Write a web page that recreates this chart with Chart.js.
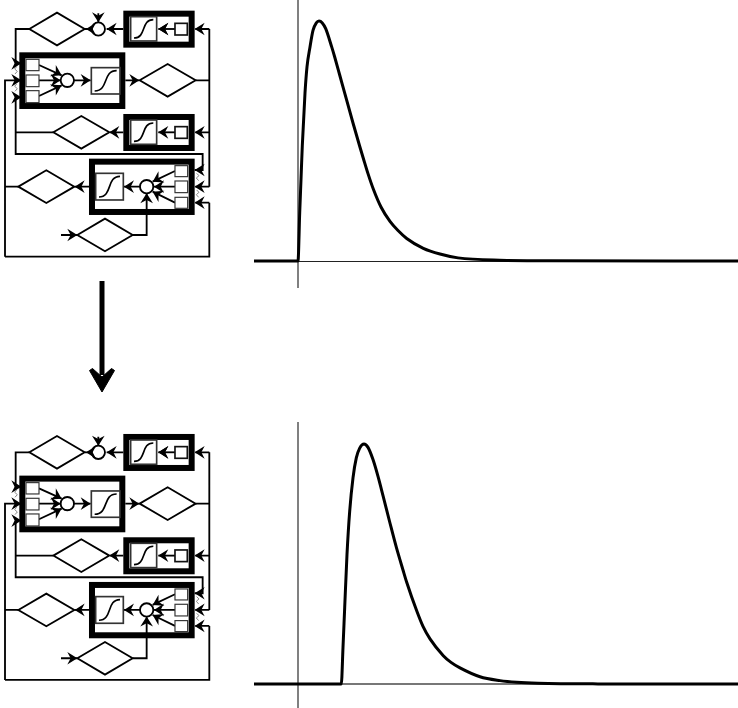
<!DOCTYPE html>
<html>
<head>
<meta charset="utf-8">
<script src="https://cdn.jsdelivr.net/npm/chart.js@4"></script>
<style>
  html, body { margin: 0; padding: 0; background: #fff; }
  body { width: 738px; height: 708px; position: relative; overflow: hidden; }
  canvas, svg { position: absolute; display: block; }
  #topChart { left: 254px; top: 0; }
  #bottomChart { left: 254px; top: 422px; }
  #diagrams { left: 0; top: 0; }
</style>
</head>
<body>
<svg id="diagrams" width="738" height="708"></svg>
<canvas id="topChart" width="484" height="288"></canvas>
<canvas id="bottomChart" width="484" height="286"></canvas>
<script>
// Curves (time, normalised activation)
const topTimes = [-4.4, 0, 0.17, 0.3, 0.43, 0.7, 0.9, 1.2, 1.5, 1.83, 2.1, 2.43, 2.77, 3.37, 3.67, 4.17, 4.7, 5.5, 6.17, 6.53, 7, 7.53, 8.3, 9.2, 10, 10.87, 12.53, 14.2, 16, 20.17, 25, 44];
const topValues = [0, 0, 0.2, 0.34, 0.48, 0.7, 0.809, 0.892, 0.961, 0.992, 1, 0.992, 0.968, 0.892, 0.85, 0.775, 0.695, 0.575, 0.478, 0.428, 0.364, 0.3, 0.225, 0.165, 0.127, 0.094, 0.053, 0.029, 0.013, 0.003, 0.001, 0];
const bottomTimes = [-4.4, 4.33, 4.5, 4.67, 4.9, 5.17, 5.5, 5.83, 6.17, 6.6, 7, 7.5, 8, 8.5, 9.17, 9.83, 10.5, 10.87, 11.87, 12.5, 13.2, 14.53, 15.3, 16.2, 18.2, 20.2, 21.87, 24, 30, 44];
const bottomValues = [0, 0, 0.152, 0.319, 0.54, 0.72, 0.859, 0.942, 0.983, 1, 0.986, 0.935, 0.865, 0.785, 0.675, 0.57, 0.475, 0.424, 0.305, 0.24, 0.188, 0.118, 0.09, 0.067, 0.03, 0.014, 0.007, 0.003, 0.0005, 0];

function createChart(id, times, values, yMin, yMax, axisColor, axisWidth) {
  return new Chart(document.getElementById(id), {
    type: 'line',
    data: {
      datasets: [{
        data: times.map((t, i) => ({ x: t, y: values[i] })),
        borderColor: '#000',
        borderWidth: 3,
        pointRadius: 0,
        cubicInterpolationMode: 'monotone',
        fill: false,
      }]
    },
    options: {
      responsive: false,
      animation: false,
      layout: { padding: 0 },
      plugins: { legend: { display: false }, tooltip: { enabled: false } },
      scales: {
        x: {
          type: 'linear',
          min: -4.4,
          max: 44,
          position: { y: 0 },
          grid: { display: false, drawTicks: false },
          ticks: { display: false },
          border: { display: true, color: axisColor, width: axisWidth },
        },
        y: {
          type: 'linear',
          min: yMin,
          max: yMax,
          position: { x: 0 },
          grid: { display: false, drawTicks: false },
          ticks: { display: false },
          border: { display: true, color: '#808080', width: 2 },
        },
      },
    },
  });
}

createChart('topChart', topTimes, topValues, -0.1125, 1.0875, '#222', 1);
createChart('bottomChart', bottomTimes, bottomValues, -0.1, 1.0917, '#777', 2);

// Block diagram, in 3x units so it lines up with the zoomed crops
function arrowHead(x, y, angle) {
  return `<path transform="translate(${x} ${y}) rotate(${angle})" d="M0 0L-30-19L-20 0L-30 19Z" fill="#000" stroke="none"/>`;
}
function diamond(cx, cy, rx, ry) {
  return `<path d="M${cx - rx} ${cy}L${cx} ${cy - ry}L${cx + rx} ${cy}L${cx} ${cy + ry}Z" fill="#fff"/>`;
}
function sigmoidBox(x, y, w, h) {
  return `<rect x="${x}" y="${y}" width="${w}" height="${h}" fill="#fff" stroke="#333" stroke-width="5"/>` +
    `<path d="M${x + 10} ${y + h - 9}C${x + w * 0.62} ${y + h - 9} ${x + w * 0.38} ${y + 9} ${x + w - 10} ${y + 9}" stroke-width="5"/>`;
}
function smallBox(x, y, w, h) {
  return `<rect x="${x}" y="${y}" width="${w}" height="${h}" fill="#fff" stroke="#333" stroke-width="3.5"/>`;
}
function frame(x, y, w, h) {
  return `<rect x="${x + 9}" y="${y + 9}" width="${w - 18}" height="${h - 18}" fill="#fff" stroke="#000" stroke-width="18"/>`;
}
function outputBlock(dy) {
  return frame(370, 32 + dy, 214, 111) +
    sigmoidBox(392, 50 + dy, 78, 73) +
    `<path d="M525 ${87 + dy}H475"/>` + arrowHead(475, 87 + dy, 180) +
    `<rect x="525" y="${70 + dy}" width="37" height="35" fill="#fff" stroke="#111" stroke-width="5"/>`;
}

const wires = `
  <path d="M88 87H47V190H60M15 770V241H60M47 292V462H608V510H584M47 397H160M628 87V560M628 87H586M628 397H586M587 241H628M628 560H586M628 608V770H15M628 608H586M370 397H330M376 241H418M255 87H275M370 87H320M295 40V66M15 560H55"/>
  <path d="M287 560H224M183 705H232M398 705H440V582M420 560H372"/>
  <path d="M50 200L44 207L52 214L45 222M50 252L44 259L52 266L45 274M590 520L597 527L589 534L596 542M590 570L597 577L589 584L596 592" stroke="#888" stroke-width="3"/>
`;
const heads = [
  arrowHead(64, 190, 0), arrowHead(64, 241, 0), arrowHead(64, 292, 0),
  arrowHead(584, 87, 180), arrowHead(584, 397, 180), arrowHead(584, 510, 180), arrowHead(584, 560, 180), arrowHead(584, 608, 180),
  arrowHead(258, 87, 180), arrowHead(320, 87, 180), arrowHead(295, 67, 90),
  arrowHead(328, 397, 180), arrowHead(418, 241, 0), arrowHead(224, 560, 180), arrowHead(232, 705, 0), arrowHead(440, 580, -90),
  arrowHead(272, 241, 0), arrowHead(372, 560, 180),
  arrowHead(185, 226, 28), arrowHead(182, 241, 0), arrowHead(185, 256, -28),
  arrowHead(458, 545, 152), arrowHead(462, 560, 180), arrowHead(458, 575, 208),
  arrowHead(475, 87, 180),
].join('');

const diagram = `
  ${frame(58, 157, 318, 170)}
  ${frame(267, 476, 317, 169)}
  ${outputBlock(0)}
  ${outputBlock(310)}
  ${wires}
  ${diamond(171, 87, 83, 49)}${diamond(503, 241, 84, 49)}${diamond(244, 397, 84, 49)}${diamond(139, 560, 84, 49)}${diamond(315, 705, 83, 49)}
  <path d="M117 195L185 226M117 241H182M117 288L185 256M222 241H272"/>
  <path d="M525 513L458 545M525 560H462M525 608L458 575"/>
  ${sigmoidBox(274, 203, 86, 79)}${sigmoidBox(287, 520, 83, 80)}
  <circle cx="295" cy="87" r="20" fill="#fff"/><circle cx="202" cy="241" r="20" fill="#fff"/><circle cx="440" cy="560" r="20" fill="#fff"/>
  ${smallBox(78, 178, 39, 34)}${smallBox(78, 225, 39, 35)}${smallBox(78, 272, 39, 36)}
  ${smallBox(525, 497, 38, 33)}${smallBox(525, 543, 38, 35)}${smallBox(525, 592, 38, 33)}
  ${heads}
`;

document.getElementById('diagrams').innerHTML = `
  <defs><g id="blockDiagram" fill="none" stroke="#000" stroke-width="5.5" transform="scale(0.3333)">${diagram}</g></defs>
  <use href="#blockDiagram"/>
  <use href="#blockDiagram" y="423.3"/>
  <path d="M102 281V375" stroke="#000" stroke-width="5" fill="none"/>
  <path d="M102 392L89.5 370.5L92.5 368.5L102 377L111.5 368.5L114.5 370.5Z" fill="#000" stroke="#000" stroke-width="1"/>
`;
</script>
</body>
</html>
